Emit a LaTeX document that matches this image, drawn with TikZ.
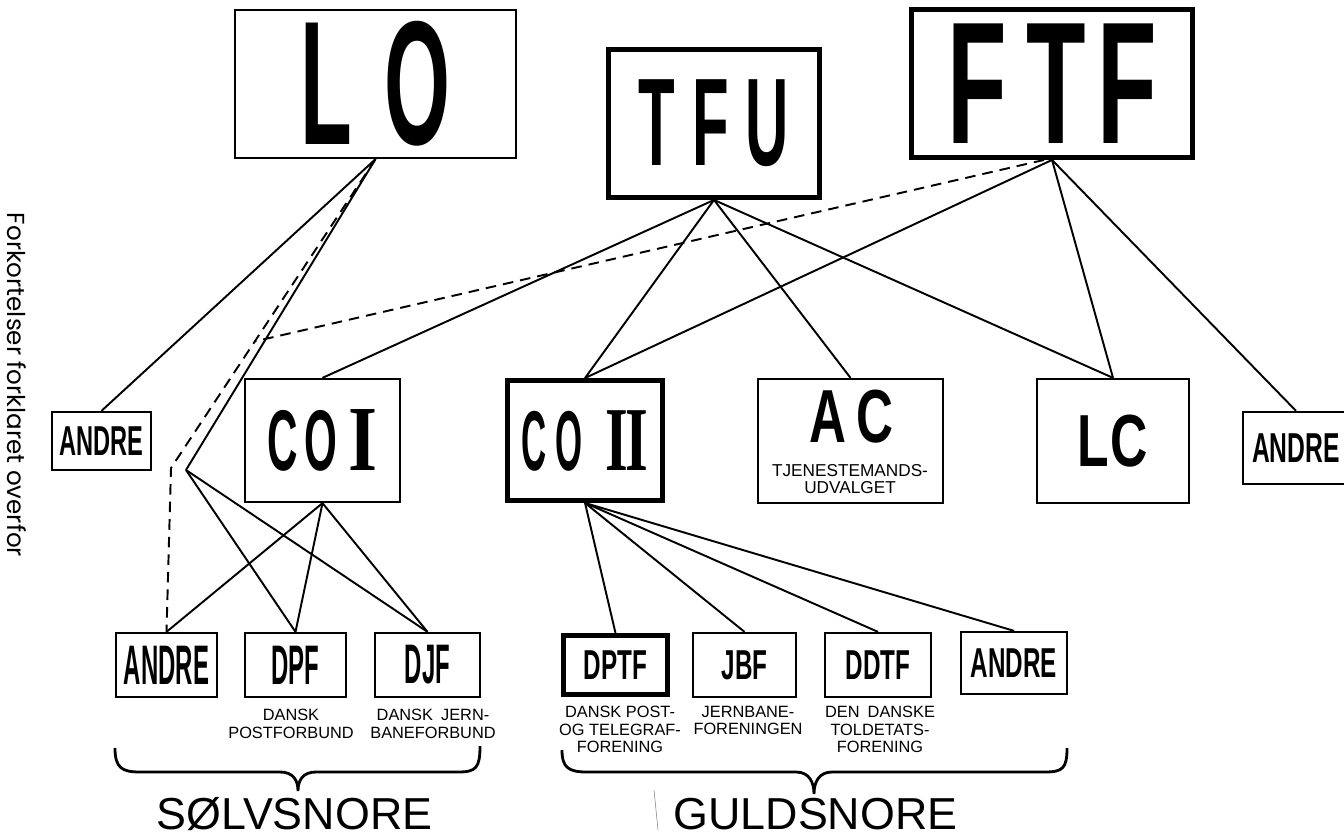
\documentclass[tikz,border=0pt]{standalone}
\usepackage{fontspec}
\usepackage{graphicx}
\setmainfont{Liberation Sans}
\newfontfamily\romfont{Liberation Serif}
\newfontfamily\sidefont{Poppins}
\usetikzlibrary{calc}
\newcommand\cond[3]{\scalebox{#1}[1]{\fontsize{#2}{#2}\selectfont\bfseries #3}}
\newcommand\romI[2]{\scalebox{#1}[1]{\fontsize{#2}{#2}\romfont\bfseries I}}
\tikzset{thinbox/.style={draw,line width=1.3pt,inner sep=0pt},
    thickbox/.style={draw,line width=2.8pt,inner sep=0pt},
    link/.style={line width=1.1pt},
    dashlink/.style={line width=1.1pt,dash pattern=on 6pt off 4pt},
    subtext/.style={inner sep=0pt,anchor=north,align=center,font=\fontsize{9.3}{9.9}\selectfont},
    bigtext/.style={inner sep=0pt,anchor=base,font=\fontsize{25.5}{26}\selectfont}
}
\begin{document}
\begin{tikzpicture}[x=0.02cm,y=-0.02cm]
           \useasboundingbox (0,0) rectangle (1344,838);
           % top row
           \node[thinbox,minimum width=5.62cm,minimum height=2.96cm] (LO) at (375.5,84) {\cond{0.48}{100.5}{L\hspace{38pt}O}};
           \node[thickbox,minimum width=4.22cm,minimum height=2.96cm] (TFU) at (714,123.5) {\cond{0.48}{71}{T\hspace{20pt}F\hspace{20pt}U}};
           \node[thickbox,minimum width=5.62cm,minimum height=2.96cm] (FTF) at (1052,83.5) {\cond{0.56}{99}{F\hspace{20pt}T\hspace{12pt}F}};
           % middle row
           \node[thinbox,minimum width=1.98cm,minimum height=1.16cm] (andreL) at (101.5,441) {\cond{0.565}{23.8}{ANDRE}};
           \node[thinbox,minimum width=3.1cm,minimum height=2.46cm] (COI) at (322.5,440.5) {\cond{0.49}{49}{C\hspace{7.6pt}O}\hspace{6.8pt}\romI{0.8}{53}};
           \node[thickbox,minimum width=3.1cm,minimum height=2.4cm] (COII) at (585,440.5) {\cond{0.41}{48.3}{C\hspace{12.4pt}O}\hspace{13pt}\scalebox{0.64}[1]{\fontsize{52}{52}\romfont\bfseries I\kern-2.5pt I}};
           \node[thinbox,minimum width=3.7cm,minimum height=2.48cm] (AC) at (850.5,441) {};
           \node[inner sep=0pt] (ACname) at (851.5,417) {\cond{0.68}{42.8}{A\hspace{8.3pt}C}};
           \node[subtext,font=\fontsize{9.8}{9.8}\selectfont] (ACsub) at (850,464) {TJENESTEMANDS-\\UDVALGET};
           \node[thinbox,minimum width=3.04cm,minimum height=2.48cm] (LC) at (1113,441) {\cond{0.7}{42}{L\hspace{1pt}C}};
           \node[thinbox,minimum width=2.12cm,minimum height=1.44cm] (andreR) at (1296,448) {\cond{0.59}{23.8}{ANDRE}};
           % bottom row
           \node[thinbox,minimum width=2.02cm,minimum height=1.28cm] (andreS) at (166.5,665) {\cond{0.43}{31.7}{ANDRE}};
           \node[thinbox,minimum width=2.02cm,minimum height=1.28cm] (DPF) at (295.5,665) {\cond{0.43}{31.7}{DPF}};
           \node[thinbox,minimum width=2.1cm,minimum height=1.28cm] (DJF) at (427.5,665) {\cond{0.43}{31.7}{DJF}};
           \node[thickbox,minimum width=2.08cm,minimum height=1.18cm] (DPTF) at (615.5,665) {\cond{0.58}{23.8}{DPTF}};
           \node[thinbox,minimum width=2.06cm,minimum height=1.28cm] (JBF) at (744.5,665) {\cond{0.58}{23.8}{JBF}};
           \node[thinbox,minimum width=2.12cm,minimum height=1.28cm] (DDTF) at (878,665) {\cond{0.58}{23.8}{DDTF}};
           \node[thinbox,minimum width=2.12cm,minimum height=1.24cm] (andreG) at (1014,663) {\cond{0.58}{23.8}{ANDRE}};
           \node[subtext] (DPFsub) at (291,709) {DANSK\\POSTFORBUND};
           \node[subtext] (DJFsub) at (433,709) {DANSK\enspace JERN-\\BANEFORBUND};
           \node[subtext] (DPTFsub) at (620,706) {DANSK POST-\\OG TELEGRAF-\\FORENING};
           \node[subtext] (JBFsub) at (748,706) {JERNBANE-\\FORENINGEN};
           \node[subtext] (DDTFsub) at (880,706) {DEN\enspace DANSKE\\TOLDETATS-\\FORENING};
           % connectors
           \coordinate (jsolid) at (186,470);
           \coordinate (jdash) at (171,468);
           \draw[link] (LO.south) to (andreL.north);
           \draw[link] (LO.south) to (jsolid);
           \draw[link] (jsolid) to (DPF.north);
           \draw[link] (jsolid) to (DJF.north);
           \draw[dashlink] (LO.south) to (jdash) to (andreS.north);
           \draw[dashlink] ($(FTF.south)+(-8,0)$) to ($(LO.south)!0.59!(jdash)$);
           \draw[link] (TFU.south) to (COI.north);
           \draw[link] (TFU.south) to (COII.north);
           \draw[link] (TFU.south) to (AC.north);
           \draw[link] (TFU.south) to (LC.north);
           \draw[link] (FTF.south) to (COII.north);
           \draw[link] (FTF.south) to (LC.north);
           \draw[link] (FTF.south) to (andreR.north);
           \draw[link] (COI.south) to (andreS.north);
           \draw[link] (COI.south) to (DPF.north);
           \draw[link] (COI.south) to (DJF.north);
           \draw[link] (COII.south) to (DPTF.north);
           \draw[link] (COII.south) to (JBF.north);
           \draw[link] (COII.south) to (DDTF.north);
           \draw[link] (COII.south) to (andreG.north);
           % braces
           \draw[line width=1.6pt] (115,748) .. controls (115,768) and (122,772) .. (140,772) -- (280,772) .. controls (293,772) and (298,780) .. (298,791) .. controls (298,780) and (303,772) .. (316,772) -- (458,772) .. controls (476,772) and (480,768) .. (480,746);
           \draw[line width=1.6pt] (562,750) .. controls (562,768) and (569,772) .. (587,772) -- (796,772) .. controls (809,772) and (814,782) .. (814,794) .. controls (814,782) and (819,772) .. (832,772) -- (1045,772) .. controls (1063,772) and (1067,768) .. (1067,748);
           \node[bigtext] (solv) at (294.5,829) {SØLVSNORE};
           \node[bigtext] (guld) at (815.5,829) {GULDSNORE};
           \draw[line width=0.3pt,gray] (654,790) -- (658,830);
           \node[rotate=-90,inner sep=0pt,font=\sidefont\fontsize{14}{14}\selectfont] (sidenote) at (17,385) {Forkortelser forklaret overfor};
         \end{tikzpicture}
\end{document}
